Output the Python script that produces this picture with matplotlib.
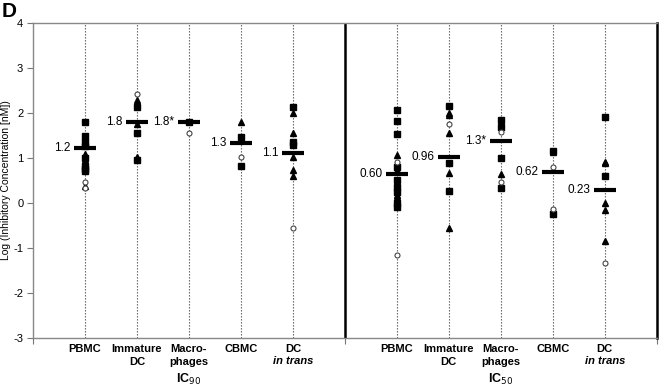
import matplotlib
matplotlib.use("Agg")
import matplotlib.pyplot as plt

plt.rcParams['font.family'] = ['Liberation Sans', 'DejaVu Sans']
plt.rcParams['axes.unicode_minus'] = False

# categories and the two groups
cats = ["PBMC", "Immature\nDC", "Macro-\nphages", "CBMC", "DC"]
groups = ["IC$_{90}$", "IC$_{50}$"]

# mean values (thick bars) and their labels
ic90_means = [1.22, 1.80, 1.80, 1.33, 1.11]
ic90_labels = ["1.2", "1.8", "1.8*", "1.3", "1.1"]
ic50_means = [0.64, 1.02, 1.38, 0.68, 0.29]
ic50_labels = ["0.60", "0.96", "1.3*", "0.62", "0.23"]

# individual values, one list per category
ic90_sq = [[1.80, 1.49, 1.36, 1.27, 1.00, 0.82, 0.76, 0.70],
           [2.13, 1.55, 0.96], [1.80], [1.47, 0.82], [2.13, 1.36, 1.29]]
ic90_tri = [[1.08, 0.95, 0.38], [2.29, 1.76, 1.02], [], [1.80],
            [2.00, 1.55, 1.02, 0.73, 0.60]]
ic90_circ = [[0.47, 0.33], [2.42], [1.55], [1.02], [-0.56]]

ic50_sq = [[2.07, 1.82, 1.53, 0.80, 0.51, 0.36, 0.24, 0.00, -0.09],
           [2.16, 0.89, 0.27], [1.84, 1.69, 1.00, 0.33], [1.16, -0.24], [1.91, 0.60]]
ic50_tri = [[1.07, 0.73, 0.44, 0.18, 0.13, -0.02],
            [2.00, 1.96, 1.56, 0.67, -0.56], [1.76, 0.64], [1.13],
            [0.91, 0.88, 0.00, -0.16, -0.84]]
ic50_circ = [[0.90, -1.16], [1.76], [1.58, 0.47], [0.80, -0.13], [-1.33]]

fig = plt.figure(figsize=(6.6, 3.89), dpi=100)
ax = fig.add_axes([0.05, 0.131, 0.945, 0.81])
trans = ax.get_xaxis_transform()

panels = [(0, ic90_means, ic90_labels, ic90_sq, ic90_tri, ic90_circ),
          (6, ic50_means, ic50_labels, ic50_sq, ic50_tri, ic50_circ)]

for gi, (off, means, labels, sq, tri, circ) in enumerate(panels):
    for ci in range(len(cats)):
        x = off + ci + 1
        ax.axvline(x, color='#555555', lw=0.8, ls=(0, (1.2, 1.5)), zorder=1)
        ax.plot([x] * len(sq[ci]), sq[ci], 's', color='black', ms=4, zorder=3)
        ax.plot([x] * len(tri[ci]), tri[ci], '^', color='black', ms=4.4, zorder=3)
        ax.plot([x] * len(circ[ci]), circ[ci], 'o', mfc='white', mec='#444444',
                mew=0.8, ms=3.6, zorder=4)
        ax.plot([x - 0.21, x + 0.21], [means[ci], means[ci]], color='black',
                lw=3, solid_capstyle='butt', zorder=5)
        ax.text(x - 0.28, means[ci], labels[ci], ha='right', va='center',
                fontsize=8.5, zorder=6)
        # category labels
        if cats[ci] == "DC":
            ax.text(x, -0.018, "DC", transform=trans, ha='center', va='top',
                    fontsize=8, fontweight='bold')
            ax.text(x, -0.058, "in trans", transform=trans, ha='center', va='top',
                    fontsize=8, fontweight='bold', style='italic')
        else:
            ax.text(x, -0.018, cats[ci], transform=trans, ha='center', va='top',
                    fontsize=8, fontweight='bold', linespacing=1.35)
    ax.text(off + 3, -0.133, groups[gi], transform=trans,
            ha='center', va='center', fontsize=9, fontweight='bold')

ax.axvline(6, color='black', lw=1.8, zorder=2)

ax.set_xlim(0, 12)
ax.set_ylim(-3, 4)
ax.set_yticks(range(-3, 5))
ax.set_xticks([0, 6, 12])
ax.set_xticklabels([])
ax.tick_params(axis='y', direction='out', length=4, width=0.8, color='#777777',
               labelsize=8, pad=3)
ax.tick_params(axis='x', direction='out', length=4, width=0.8, color='#777777')
for sp in ['left', 'top', 'bottom']:
    ax.spines[sp].set_color('#888888')
    ax.spines[sp].set_linewidth(1.0)
ax.spines['right'].set_color('black')
ax.spines['right'].set_linewidth(1.8)

fig.text(0.009, 0.537, "Log (Inhibitory Concentration [nM])", rotation=90,
         ha='center', va='center', fontsize=7.5)

fig.text(0.003, 0.995, "D", fontsize=15, fontweight='bold', ha='left', va='top')

fig.savefig("out.png", dpi=100)
